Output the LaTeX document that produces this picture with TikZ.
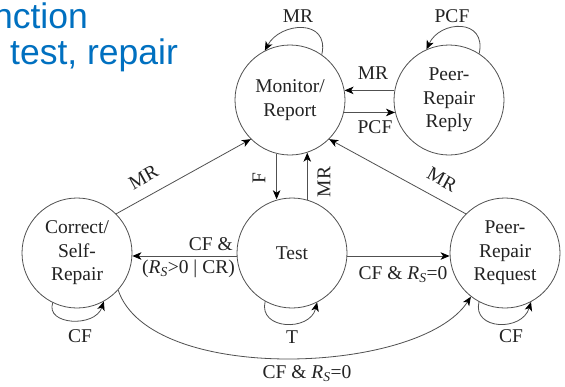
\documentclass[tikz,border=0pt]{standalone}
\usepackage{fontspec}
\setmainfont{Liberation Serif}
\newfontfamily\hdrfont{Liberation Sans}
\usetikzlibrary{arrows.meta,calc}
\definecolor{hdrblue}{RGB}{0,112,192}
\definecolor{edgegray}{RGB}{80,80,80}
\definecolor{txtgray}{RGB}{35,35,35}
\begin{document}
\begin{tikzpicture}[x=1pt,y=-1pt,
  state/.style={circle, draw=edgegray, line width=0.8pt, minimum size=110pt, inner sep=0pt, align=center, font=\fontsize{19.5}{23.5}\selectfont, text=txtgray},
  edge/.style={draw=edgegray, line width=0.8pt, -{Stealth[length=9pt,width=7.5pt,inset=2.5pt,color=black]}},
  lbl/.style={font=\fontsize{19.5}{23}\selectfont, text=txtgray, inner sep=0pt},
  hdr/.style={font=\hdrfont\fontsize{35.5}{40}\selectfont, text=hdrblue, inner sep=0pt}
]
\useasboundingbox (0,0) rectangle (565,386);
\clip (0,0) rectangle (565,386);
\fill[white] (0,0) rectangle (565,386);

\node[hdr, anchor=base east] (h1) at (88,28) {nction};
\node[hdr, anchor=base west] (h2) at (10,64) {test, repair};

\node[state] (mon) at (290,100) {Monitor/\\Report};
\node[state] (rep) at (449,100) {Peer-\\Repair\\Reply};
\node[state] (cor) at (77,253) {Correct/\\Self-\\Repair};
\node[state] (tst) at (292,253) {Test};
\node[state] (req) at (505,253) {Peer-\\Repair\\Request};

% top loops
\draw[edge] (mon.55) .. controls (330,18) and (280,22) .. (mon.117);
\node[lbl, anchor=base] (lmr1) at (298,22) {MR};
\draw[edge] (rep.57) .. controls (487,18) and (440,20) .. (rep.114);
\node[lbl, anchor=base] (lpcf1) at (452,22) {PCF};

% monitor <-> reply
\draw[edge] (rep.170) -- (mon.10);
\node[lbl, anchor=base] (lmr2) at (373,79) {MR};
\draw[edge] (mon.-13) -- (rep.193);
\node[lbl, anchor=base] (lpcf2) at (375,133) {PCF};

% monitor <-> test
\draw[edge] (mon.256) -- (mon.256 |- tst.104);
\node[lbl, rotate=90] (lf) at (259,178) {F};
\draw[edge] (tst.74) -- (tst.74 |- mon.-72);
\node[lbl, rotate=90] (lmr3) at (324,182) {MR};

% diagonals
\draw[edge] (cor.45) -- node[lbl, pos=0.27, above=12pt, sloped] {MR} (mon.225);
\draw[edge] (req.135) -- node[lbl, pos=0.24, above=12pt, sloped] {MR} (mon.-45);

% test -> correct / request
\draw[edge] ([yshift=-3pt]tst.west) -- ([yshift=-3pt]cor.east);
\node[lbl, anchor=base east] (lcf1) at (233,250) {CF \&};
\node[lbl, anchor=base east] (lcf2) at (235,273) {(\textit{R}\textsubscript{\textit{S}}>0 | CR)};
\draw[edge] ([yshift=-3pt]tst.east) -- ([yshift=-3pt]req.west);
\node[lbl, anchor=base] (lcf3) at (403,279) {CF \& \textit{R}\textsubscript{\textit{S}}=0};

% bottom loops
\draw[edge] (cor.244) .. controls (45,325) and (95,328) .. (cor.-61);
\node[lbl, anchor=base] (lcf4) at (80,342) {CF};
\draw[edge] (tst.241) .. controls (258,330) and (310,332) .. (tst.-63);
\node[lbl, anchor=base] (lt) at (292,343) {T};
\draw[edge] (req.242) .. controls (472,330) and (522,332) .. (req.-62);
\node[lbl, anchor=base] (lcf5) at (511,342) {CF};

% long curve
\draw[edge] (cor.-42) .. controls (150,385) and (420,375) .. (req.232);
\node[lbl, anchor=base] (lcf6) at (307,378) {CF \& \textit{R}\textsubscript{\textit{S}}=0};
\end{tikzpicture}
\end{document}
